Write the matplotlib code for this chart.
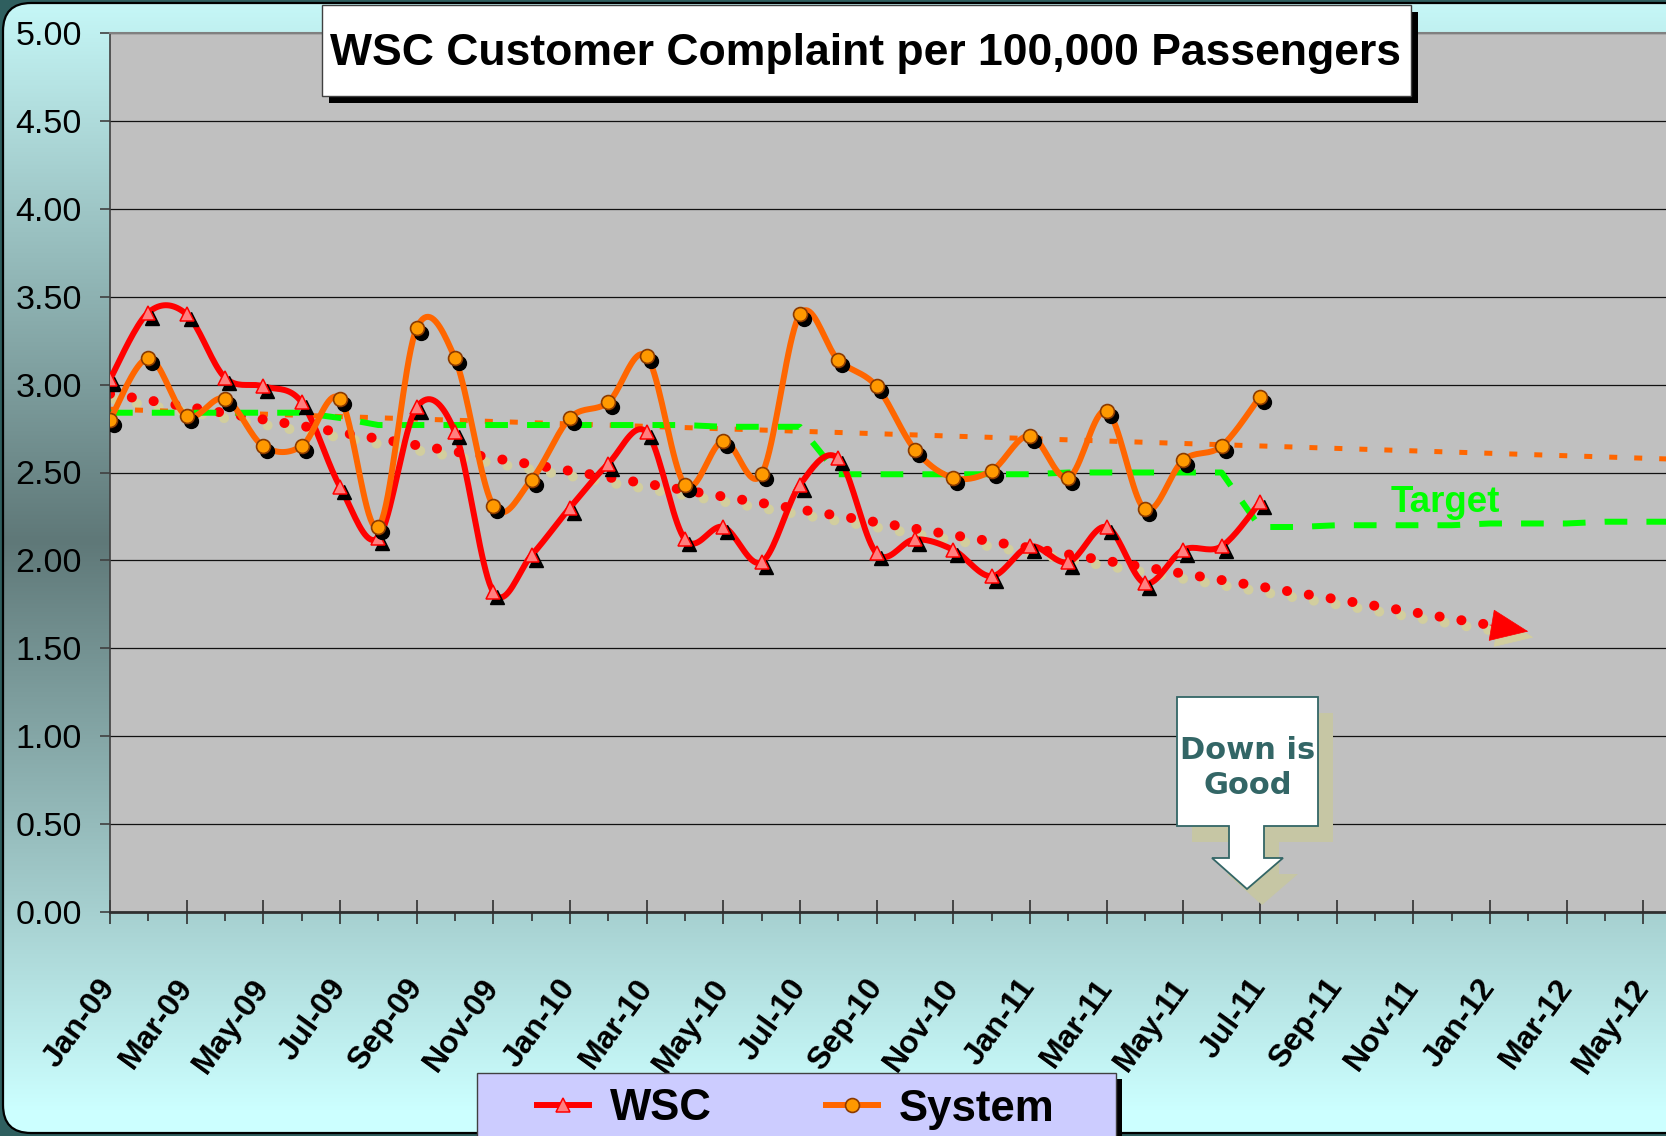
import numpy as np
import matplotlib
matplotlib.use("Agg")
import matplotlib.pyplot as plt
from matplotlib import font_manager as fm
from matplotlib.patches import FancyBboxPatch, Rectangle, Polygon
from matplotlib.transforms import ScaledTranslation

# ---------------- data ----------------
months_obs = list(range(31))          # Jan-09 .. Jul-11
wsc = [3.03, 3.41, 3.40, 3.04, 2.99, 2.90, 2.42, 2.13, 2.87, 2.73, 1.82, 2.03,
       2.30, 2.55, 2.73, 2.12, 2.19, 1.99, 2.43, 2.58, 2.04, 2.12, 2.06, 1.91,
       2.08, 1.99, 2.19, 1.87, 2.06, 2.08, 2.33]
system = [2.80, 3.15, 2.82, 2.92, 2.65, 2.65, 2.92, 2.19, 3.32, 3.15, 2.31, 2.46,
          2.81, 2.90, 3.16, 2.43, 2.68, 2.49, 3.40, 3.14, 2.99, 2.63, 2.47, 2.51,
          2.71, 2.47, 2.85, 2.29, 2.57, 2.65, 2.93]
target = [2.84, 2.84, 2.84, 2.84, 2.84, 2.84, 2.81,
          2.77, 2.77, 2.77, 2.77, 2.77, 2.77, 2.77, 2.77, 2.77, 2.76, 2.76, 2.76,
          2.49, 2.49, 2.49, 2.49, 2.49, 2.49, 2.50, 2.50, 2.50, 2.50, 2.50,
          2.19, 2.19, 2.20, 2.20, 2.20, 2.20, 2.21, 2.21, 2.21, 2.22, 2.22, 2.22]
months_target = list(range(len(target)))
tick_labels = ["Jan-09", "Mar-09", "May-09", "Jul-09", "Sep-09", "Nov-09",
               "Jan-10", "Mar-10", "May-10", "Jul-10", "Sep-10", "Nov-10",
               "Jan-11", "Mar-11", "May-11", "Jul-11", "Sep-11", "Nov-11",
               "Jan-12", "Mar-12", "May-12"]
wsc_forecast_end = 37      # trend arrow end (months)
sys_forecast_end = 41

# ---------------- fonts ----------------
def has_font(name):
    try:
        fm.findfont(fm.FontProperties(family=name), fallback_to_default=False)
        return True
    except Exception:
        return False

NARROW = "Liberation Sans Narrow" if has_font("Liberation Sans Narrow") else None
SANS = "Liberation Sans"

def smooth(x, y, n=20):
    P = np.column_stack([np.asarray(x, float), np.asarray(y, float)])
    E = np.vstack([P[0], P, P[-1]])
    t = np.linspace(0, 1, n, endpoint=False)[:, None]
    out = []
    for i in range(len(P) - 1):
        p0, p1, p2, p3 = E[i], E[i + 1], E[i + 2], E[i + 3]
        b1 = p1 + (p2 - p0) / 6.0
        b2 = p2 - (p3 - p1) / 6.0
        out.append((1 - t) ** 3 * p1 + 3 * (1 - t) ** 2 * t * b1 + 3 * (1 - t) * t ** 2 * b2 + t ** 3 * p2)
    out.append(P[-1:])
    S = np.vstack(out)
    return S[:, 0], S[:, 1]

W, H = 1666, 1136
fig = plt.figure(figsize=(W / 100, H / 100), dpi=100)
fig.patch.set_facecolor("#2F5F5F")

def px(dx, dy):
    return ScaledTranslation(dx / 100.0, -dy / 100.0, fig.dpi_scale_trans)

# ---------------- background ----------------
ax_bg = fig.add_axes([0, 0, 1, 1], zorder=-10)
ax_bg.set_xlim(0, W); ax_bg.set_ylim(H, 0); ax_bg.axis("off")
frame = FancyBboxPatch((3, 3), W + 80, H - 6, boxstyle="round,pad=0,rounding_size=28",
                       fc="none", ec="black", lw=1.6, zorder=3)
ax_bg.add_patch(frame)
yy = np.arange(H)
d = np.clip(np.abs(yy - 540) / 570.0, 0, 1)
dark = np.array([95, 120, 120]) / 255.0
light = np.array([204, 255, 255]) / 255.0
img = (dark + (light - dark) * d[:, None])[:, None, :]
im = ax_bg.imshow(img, extent=(0, W, H, 0), aspect="auto", zorder=1)
im.set_clip_path(frame)

# ---------------- main axes ----------------
ax = fig.add_axes([110 / W, 1 - 912 / H, (W - 110) / W, 879 / H])
ax.set_facecolor("#C0C0C0")
ax.set_xlim(0, (W - 110) / 38.33)
ax.set_ylim(0, 5)
ax.set_yticks(np.arange(0, 5.01, 0.5))
ax.set_yticklabels([f"{v:.2f}" for v in np.arange(0, 5.01, 0.5)], fontsize=24.5, family=SANS)
ax.yaxis.grid(True, color="#111111", lw=0.9)
ax.set_axisbelow(True)
ax.tick_params(axis="y", direction="out", length=7.2, width=1.2, color="#404040", pad=13)
ax.set_xticks(range(0, 41, 2))
ax.set_xticks(range(1, 41, 2), minor=True)
ax.set_xticklabels(tick_labels, fontsize=23, fontweight="bold", family=SANS,
                   rotation=54, ha="right", va="center", rotation_mode="anchor")
ax.tick_params(axis="x", which="major", direction="inout", length=17, width=1.2,
               color="#303030", pad=42)
ax.tick_params(axis="x", which="minor", direction="out", length=6.5, width=1.2, color="#303030")
for lab in ax.get_xticklabels():
    lab.set_transform(lab.get_transform() + px(0, 0))
ax.spines["right"].set_visible(False)
ax.spines["top"].set_color("#808080"); ax.spines["top"].set_linewidth(1.5)
ax.spines["left"].set_color("#404040"); ax.spines["left"].set_linewidth(1.2)
ax.spines["bottom"].set_color("#303030"); ax.spines["bottom"].set_linewidth(2)

# trend lines
cw = np.polyfit(months_obs, wsc, 1)
cs = np.polyfit(months_obs, system, 1)
xs = np.linspace(0, sys_forecast_end, 60)
ax.plot(xs, np.polyval(cs, xs), color="#FF6600", lw=3.6, ls=(0, (1.6, 3.4)), zorder=1.5)
xw = np.linspace(0, wsc_forecast_end - 0.8, 60)
dot = (0, (0.01, 2.2))
ax.plot(xw, np.polyval(cw, xw), color="#D2CE9E", lw=7.2, ls=dot, dash_capstyle="round",
        transform=ax.transData + px(5, 6), zorder=1.2)
ax.plot(xw, np.polyval(cw, xw), color="#FF0000", lw=7.2, ls=dot, dash_capstyle="round", zorder=1.6)
ap = dict(arrowstyle="-|>,head_length=1.3,head_width=0.55", lw=0.5, mutation_scale=20,
          shrinkA=0, shrinkB=0)
xa0, xa1 = wsc_forecast_end - 1.0, wsc_forecast_end
ax.annotate("", xy=(xa1, np.polyval(cw, xa1)), xytext=(xa0, np.polyval(cw, xa0)),
            xycoords=ax.transData + px(5, 6), textcoords=ax.transData + px(5, 6),
            arrowprops=dict(ap, color="#D2CE9E"), zorder=1.2)
ax.annotate("", xy=(xa1, np.polyval(cw, xa1)), xytext=(xa0, np.polyval(cw, xa0)),
            arrowprops=dict(ap, color="#FF0000"), zorder=1.6)

# target
ax.plot(months_target, target, color="#00FF00", lw=4.3, ls=(0, (3.8, 3.2)), zorder=2)

# series
sx, sy = smooth(months_obs, wsc)
ax.plot(sx, sy, color="#FF0000", lw=4.3, zorder=3, solid_capstyle="round")
ax.plot(months_obs, wsc, ls="none", marker="^", ms=9.5, color="black",
        transform=ax.transData + px(4, 5), zorder=3.1)
ax.plot(months_obs, wsc, ls="none", marker="^", ms=9.5, mfc="#FF7F7F", mec="#FF0000",
        mew=1.1, zorder=3.2)
h_wsc, = ax.plot([], [], color="#FF0000", lw=4.3, marker="^", ms=9.5, mfc="#FF7F7F",
                 mec="#FF0000", mew=1.1)
sx, sy = smooth(months_obs, system)
ax.plot(sx, sy, color="#FF6600", lw=4.3, zorder=4, solid_capstyle="round")
ax.plot(months_obs, system, ls="none", marker="o", ms=10, color="black",
        transform=ax.transData + px(4, 5), zorder=4.1)
ax.plot(months_obs, system, ls="none", marker="o", ms=10, mfc="#FF9900", mec="#8B3A00",
        mew=1.2, zorder=4.2)
h_sys, = ax.plot([], [], color="#FF6600", lw=4.3, marker="o", ms=10, mfc="#FF9900",
                 mec="#8B3A00", mew=1.2)

# ---------------- overlay (title, callout, legend) ----------------
ov = fig.add_axes([0, 0, 1, 1], zorder=5)
ov.set_xlim(0, W); ov.set_ylim(H, 0); ov.axis("off"); ov.patch.set_visible(False)

ov.add_patch(Rectangle((329, 12), 1089, 91, fc="black", ec="none"))
ov.add_patch(Rectangle((322, 5), 1089, 91, fc="white", ec="#404040", lw=1))
if NARROW:
    ov.text(866, 53, "WSC Customer Complaint per 100,000 Passengers", family=NARROW,
            fontweight="bold", fontsize=38, ha="center", va="center")
else:
    ov.text(866, 53, "WSC Customer Complaint per 100,000 Passengers", family=SANS,
            fontweight="bold", fontsize=32, ha="center", va="center")

# Target label
ov.text(1391, 512, "Target", color="#00FF00", fontsize=26.5, fontweight="bold",
        family=SANS, ha="left", va="baseline")

# Down is Good callout
shape = np.array([(1177, 697), (1318, 697), (1318, 826), (1264, 826), (1264, 858),
                  (1283, 858), (1247, 889), (1212, 858), (1229, 858), (1229, 826),
                  (1177, 826)], float)
ov.add_patch(Polygon(shape + [15, 16], closed=True, fc="#C6C6A4", ec="none"))
ov.add_patch(Polygon(shape, closed=True, fc="white", ec="#336666", lw=1.3))
ov.text(1248, 768, "Down is\nGood", color="#336666", fontsize=22, fontweight="bold",
        family="DejaVu Sans", ha="center", va="center", multialignment="center",
        linespacing=1.3)

# legend
ov.add_patch(Rectangle((483, 1079), 639, 120, fc="black", ec="none"))
ov.add_patch(Rectangle((477, 1073), 639, 120, fc="#CCCCFF", ec="#404040", lw=1))
ov.legend([h_wsc, h_sys], ["WSC", "System"], loc="center left",
          bbox_to_anchor=(537, 1109), bbox_transform=ov.transData, frameon=False,
          ncol=2, numpoints=1, borderpad=0, borderaxespad=0, handlelength=1.2,
          handletextpad=0.47, columnspacing=2.6,
          prop=fm.FontProperties(family=SANS, weight="bold", size=31.5))

fig.savefig("out.png", dpi=100, facecolor=fig.get_facecolor())
